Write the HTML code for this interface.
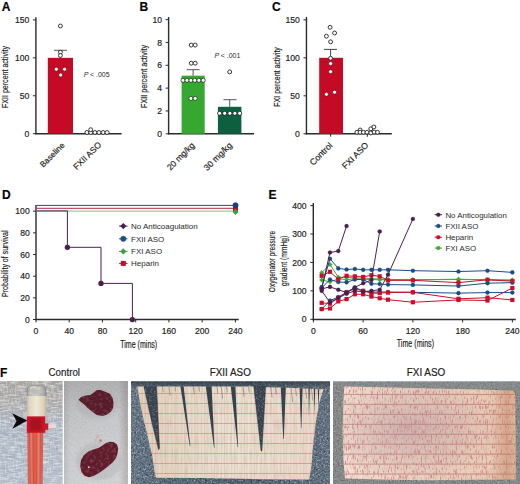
<!DOCTYPE html>
<html><head><meta charset="utf-8"><title>Figure</title><style>
html,body{margin:0;padding:0;background:#fff;width:520px;height:484px;overflow:hidden}
svg{display:block}
text{font-family:"Liberation Sans",sans-serif;stroke:#222;stroke-width:0.18px}
</style></head><body>
<svg width="520" height="484" viewBox="0 0 520 484">
<rect width="520" height="484" fill="#fff"/>
<defs>
<filter id="spkW" x="0" y="0" width="100%" height="100%"><feTurbulence type="fractalNoise" baseFrequency="0.55" numOctaves="2" seed="3"/><feColorMatrix type="matrix" values="0 0 0 0 1  0 0 0 0 1  0 0 0 0 1  0 0 0 2.2 -1.05"/></filter>
<filter id="spkK" x="0" y="0" width="100%" height="100%"><feTurbulence type="fractalNoise" baseFrequency="0.55" numOctaves="2" seed="8"/><feColorMatrix type="matrix" values="0 0 0 0 0  0 0 0 0 0  0 0 0 0 0  0 0 0 2.2 -1.05"/></filter>
<filter id="fabW" x="0" y="0" width="100%" height="100%"><feTurbulence type="fractalNoise" baseFrequency="0.12 0.6" numOctaves="2" seed="5"/><feColorMatrix type="matrix" values="0 0 0 0 1  0 0 0 0 1  0 0 0 0 1  0 0 0 2.4 -1.0"/></filter>
<filter id="fabV" x="0" y="0" width="100%" height="100%"><feTurbulence type="fractalNoise" baseFrequency="0.6 0.15" numOctaves="2" seed="15"/><feColorMatrix type="matrix" values="0 0 0 0 0.95  0 0 0 0 0.97  0 0 0 0 1  0 0 0 2.4 -1.1"/></filter>
<filter id="fabK" x="0" y="0" width="100%" height="100%"><feTurbulence type="fractalNoise" baseFrequency="0.06 0.5" numOctaves="2" seed="9"/><feColorMatrix type="matrix" values="0 0 0 0 0.25  0 0 0 0 0.3  0 0 0 0 0.4  0 0 0 2.2 -1.1"/></filter>
<filter id="fib" x="0" y="0" width="100%" height="100%"><feTurbulence type="fractalNoise" baseFrequency="0.5 0.06" numOctaves="2" seed="13"/><feColorMatrix type="matrix" values="0 0 0 0 0.55  0 0 0 0 0.35  0 0 0 0 0.3  0 0 0 2.0 -1.0"/></filter>
<filter id="fibR" x="0" y="0" width="100%" height="100%"><feTurbulence type="fractalNoise" baseFrequency="0.8 0.2" numOctaves="2" seed="21"/><feColorMatrix type="matrix" values="0 0 0 0 0.6  0 0 0 0 0.22  0 0 0 0 0.26  0 0 0 4.6 -2.45"/><feGaussianBlur stdDeviation="0.35"/></filter>
<filter id="blotch" x="0" y="0" width="100%" height="100%"><feTurbulence type="fractalNoise" baseFrequency="0.3" numOctaves="2" seed="17"/><feColorMatrix type="matrix" values="0 0 0 0 0.54  0 0 0 0 0.22  0 0 0 0 0.32  0 0 0 1.8 -0.85"/><feGaussianBlur stdDeviation="0.4"/></filter>
<filter id="bl03"><feGaussianBlur stdDeviation="0.3"/></filter>
<filter id="bl05"><feGaussianBlur stdDeviation="0.5"/></filter>
<filter id="bl08"><feGaussianBlur stdDeviation="0.8"/></filter>
<filter id="bl15"><feGaussianBlur stdDeviation="1.5"/></filter>
<linearGradient id="tubeg" x1="0" x2="1" y1="0" y2="0"><stop offset="0" stop-color="#cc5448"/><stop offset="0.2" stop-color="#e27262"/><stop offset="0.45" stop-color="#da5c48"/><stop offset="0.7" stop-color="#e47864"/><stop offset="1" stop-color="#c85048"/></linearGradient>
<linearGradient id="beigeg" x1="0" x2="1" y1="0" y2="0"><stop offset="0" stop-color="#c8bca4"/><stop offset="0.15" stop-color="#e0d6c0"/><stop offset="0.5" stop-color="#efe8d6"/><stop offset="0.85" stop-color="#ddd2ba"/><stop offset="1" stop-color="#c4b8a0"/></linearGradient>
<linearGradient id="capg" x1="0" x2="1" y1="0" y2="0"><stop offset="0" stop-color="#9a9894" stop-opacity="0.9"/><stop offset="0.2" stop-color="#c4c2bc" stop-opacity="0.55"/><stop offset="0.6" stop-color="#d4d2cc" stop-opacity="0.5"/><stop offset="1" stop-color="#94928e" stop-opacity="0.9"/></linearGradient>
<linearGradient id="p1bg" x1="0" x2="0" y1="0" y2="1"><stop offset="0" stop-color="#a6a29c"/><stop offset="0.2" stop-color="#aaa8a6"/><stop offset="0.4" stop-color="#aab3be"/><stop offset="1" stop-color="#b2bcc9"/></linearGradient>
<linearGradient id="p2bg" x1="0" x2="1" y1="0" y2="0"><stop offset="0" stop-color="#b4b4b6"/><stop offset="0.1" stop-color="#c6c7c9"/><stop offset="0.85" stop-color="#cbcccf"/><stop offset="1" stop-color="#a8a4a2"/></linearGradient>
<linearGradient id="p2v" x1="0" x2="0" y1="0" y2="1"><stop offset="0" stop-color="#8c8c8e" stop-opacity="0.45"/><stop offset="0.3" stop-color="#8c8c8e" stop-opacity="0.1"/><stop offset="0.7" stop-color="#ffffff" stop-opacity="0.1"/><stop offset="1" stop-color="#ffffff" stop-opacity="0.15"/></linearGradient>
<linearGradient id="p3bg" x1="0" x2="1" y1="0" y2="0"><stop offset="0" stop-color="#667888"/><stop offset="0.15" stop-color="#586a7a"/><stop offset="0.6" stop-color="#4e5e6c"/><stop offset="1" stop-color="#627282"/></linearGradient>
<linearGradient id="p3top" x1="0" x2="0" y1="0" y2="1"><stop offset="0" stop-color="#2f3a44" stop-opacity="0.8"/><stop offset="1" stop-color="#2f3a44" stop-opacity="0"/></linearGradient>
<linearGradient id="pap4" x1="0" x2="1" y1="0" y2="0"><stop offset="0" stop-color="#f4e0d2"/><stop offset="0.2" stop-color="#eed8c8"/><stop offset="0.55" stop-color="#e8d0be"/><stop offset="0.85" stop-color="#eacdb6"/><stop offset="0.95" stop-color="#d4a88a"/><stop offset="1" stop-color="#deba9a"/></linearGradient>
<linearGradient id="pap3" x1="0" x2="1" y1="0" y2="0"><stop offset="0" stop-color="#e0d0bc"/><stop offset="0.5" stop-color="#e9dfd0"/><stop offset="1" stop-color="#ead8ca"/></linearGradient>
<pattern id="grid3" patternUnits="userSpaceOnUse" x="131" y="383.0" width="9.9" height="10.0"><path d="M0,0.5 H9.9" stroke="#cc6656" stroke-width="0.85" opacity="0.7"/><path d="M4.5,0 V10" stroke="#d07060" stroke-width="0.6" opacity="0.35"/><path d="M1.6,0 V10 M7.0,0 V10" stroke="#a09484" stroke-width="0.5" opacity="0.4"/><path d="M3.0,0 V10 M8.6,0 V10" stroke="#fff8f0" stroke-width="0.6" opacity="0.35"/></pattern>
<pattern id="grid4" patternUnits="userSpaceOnUse" x="333" y="384.0" width="10.2" height="9.95"><path d="M0,0.5 H10.2" stroke="#b05c50" stroke-width="0.8" opacity="0.7"/><path d="M0.5,0 V9.95" stroke="#c88070" stroke-width="0.5" opacity="0.3"/></pattern>
<radialGradient id="mauve4" cx="0.38" cy="0.45" r="0.55"><stop offset="0" stop-color="#9a7888" stop-opacity="0.38"/><stop offset="1" stop-color="#a08090" stop-opacity="0"/></radialGradient>
<clipPath id="c1"><rect x="0" y="381.0" width="62.8" height="103"/></clipPath>
<clipPath id="c2"><rect x="63.9" y="381.0" width="64" height="103"/></clipPath>
<clipPath id="c3"><rect x="131" y="381.2" width="199" height="102.8"/></clipPath>
<clipPath id="c4"><rect x="333" y="381.2" width="187" height="102.8"/></clipPath>
<clipPath id="tubec"><path d="M27.3,432 L43.2,432 L42.6,484 L27.8,484 Z"/></clipPath>
</defs>
<g clip-path="url(#c1)">
<rect x="0" y="381.0" width="62.8" height="103" fill="url(#p1bg)"/>
<rect x="0" y="381.0" width="62.8" height="103" filter="url(#fabK)" opacity="0.55"/>
<rect x="0" y="381.0" width="62.8" height="103" filter="url(#fabW)" opacity="0.55"/>
<rect x="0" y="381.0" width="62.8" height="103" filter="url(#fabV)" opacity="0.4"/>
<g clip-path="url(#tubec)"><rect x="27" y="432" width="17" height="53" fill="url(#tubeg)"/>
<path d="M29.5,432 L30.5,484 M33,432 L33.5,484 M36.5,432 L36.5,484 M40.5,432 L40,484" stroke="#b83030" stroke-width="0.7" opacity="0.5"/>
<path d="M31.5,432 L32,484 M38.5,432 L38.3,484" stroke="#f09080" stroke-width="0.8" opacity="0.5"/></g>
<path d="M26.8,397 L26.8,390 Q26.8,385.3 31.5,385.3 L41.5,385.3 Q46.2,385.3 46.2,390 L46.2,397 Z" fill="url(#capg)"/>
<path d="M27.2,397 L27.2,390 Q27.2,385.7 31.5,385.7 L41.5,385.7 Q45.8,385.7 45.8,390 L45.8,397" fill="none" stroke="#7c7a76" stroke-width="0.8" opacity="0.7"/>
<path d="M30,389 Q31,386.8 36,386.6" stroke="#e4e0d8" stroke-width="1" fill="none"/>
<rect x="26.8" y="396" width="19.4" height="20.6" fill="url(#beigeg)"/>
<rect x="26.8" y="416.4" width="18.4" height="16.4" fill="#cc1628"/>
<rect x="30" y="418.5" width="11.5" height="12" fill="#8e0a1a" opacity="0.55" filter="url(#bl08)"/>
<rect x="45" y="423.4" width="3.6" height="6.4" fill="#c81c2c"/>
<rect x="48.4" y="424.2" width="7.8" height="5.0" fill="#e2dcdc"/>
<rect x="48.4" y="428.2" width="7.8" height="1" fill="#b8b0b0"/>
<path d="M12.2,413.3 L27.2,420.5 L12.2,429.0 L16.6,421 Z" fill="#0a0a0a"/>
</g>
<g clip-path="url(#c2)">
<rect x="63.9" y="381.0" width="64" height="103" fill="url(#p2bg)"/>
<rect x="63.9" y="381.0" width="64" height="103" fill="url(#p2v)"/>
<rect x="63.9" y="381.0" width="64" height="103" filter="url(#spkK)" opacity="0.07"/>
<rect x="63.9" y="381.0" width="64" height="103" filter="url(#spkW)" opacity="0.12"/>
<ellipse cx="97" cy="404" rx="21" ry="15" fill="#a8a8ac" opacity="0.35" filter="url(#bl15)"/>
<ellipse cx="99" cy="461" rx="23" ry="19" fill="#a8a8ac" opacity="0.35" filter="url(#bl15)"/>
<path d="M78.5,399.7 L81.2,396.9 L85.8,395.5 L90.5,395.1 L94.2,392.3 L96.9,390 L100.6,390 L105.2,391.8 L109.9,393.7 L112.6,397.9 L113.5,402.5 L113.1,408 L110.8,411.7 L107.1,414.5 L102.5,415.9 L96.9,414.9 L92.3,411.7 L87.7,408 L84,404.3 L80.3,401.5 Z" fill="#561a2c" filter="url(#bl05)"/>
<clipPath id="ovc1"><path d="M78.5,399.7 L81.2,396.9 L85.8,395.5 L90.5,395.1 L94.2,392.3 L96.9,390 L100.6,390 L105.2,391.8 L109.9,393.7 L112.6,397.9 L113.5,402.5 L113.1,408 L110.8,411.7 L107.1,414.5 L102.5,415.9 L96.9,414.9 L92.3,411.7 L87.7,408 L84,404.3 L80.3,401.5 Z"/></clipPath>
<g clip-path="url(#ovc1)"><rect x="0" y="370" width="520" height="114" filter="url(#blotch)" opacity="0.5"/></g>
<path d="M80.2,466 L81,460 L84,455 L88.5,451.5 L93.5,449.5 L98.5,448 L102.5,445.5 L106,443 L110,441.8 L114,442.2 L117,444.5 L118.2,448.5 L117.5,453.5 L115.8,458.5 L112.5,462.5 L108.5,466 L104,469.5 L99,473 L94,475.8 L89,477.2 L84.5,475.8 L81.5,472 Z" fill="#5e1a2c" filter="url(#bl05)"/>
<clipPath id="ovc2"><path d="M80.2,466 L81,460 L84,455 L88.5,451.5 L93.5,449.5 L98.5,448 L102.5,445.5 L106,443 L110,441.8 L114,442.2 L117,444.5 L118.2,448.5 L117.5,453.5 L115.8,458.5 L112.5,462.5 L108.5,466 L104,469.5 L99,473 L94,475.8 L89,477.2 L84.5,475.8 L81.5,472 Z"/></clipPath>
<g clip-path="url(#ovc2)"><rect x="0" y="370" width="520" height="114" filter="url(#blotch)" opacity="0.5"/></g>
<circle cx="97.5" cy="436.5" r="1.9" fill="#d4b0b4" opacity="0.85"/><circle cx="100.5" cy="440.5" r="1.5" fill="#b87880" opacity="0.8"/><circle cx="95.5" cy="440" r="1" fill="#c8a0a4" opacity="0.8"/>
<circle cx="88.8" cy="467.2" r="0.9" fill="#e8c8d0"/>
</g>
<g clip-path="url(#c3)">
<rect x="131" y="381.2" width="199" height="102.8" fill="url(#p3bg)"/>
<rect x="131" y="381.2" width="199" height="102.8" filter="url(#spkW)" opacity="0.55"/>
<rect x="131" y="381.2" width="199" height="102.8" filter="url(#spkK)" opacity="0.5"/>
<rect x="131" y="381.2" width="199" height="8" fill="url(#p3top)"/>
<path d="M137.2,386.6 L143.8,386.5 L157,386.4 L200,386.4 L253,386.6 L265.4,387.2 L290,387.8 L303,388.6 L323.3,389.4 L319.5,402 L316.5,418 L314.6,431.5 L312.6,450 L311.4,465.8 L309.2,479.6 L262,479.2 L200,478.0 L156,477.8 L155.0,474 L152.0,455 L146.2,430 L144.2,422 L141,408 Z" fill="url(#pap3)"/>
<path d="M137.2,386.6 L143.8,386.5 L157,386.4 L200,386.4 L253,386.6 L265.4,387.2 L290,387.8 L303,388.6 L323.3,389.4 L319.5,402 L316.5,418 L314.6,431.5 L312.6,450 L311.4,465.8 L309.2,479.6 L262,479.2 L200,478.0 L156,477.8 L155.0,474 L152.0,455 L146.2,430 L144.2,422 L141,408 Z" fill="url(#grid3)" filter="url(#bl03)" opacity="0.9"/>
<clipPath id="ovc3"><path d="M137.2,386.6 L143.8,386.5 L157,386.4 L200,386.4 L253,386.6 L265.4,387.2 L290,387.8 L303,388.6 L323.3,389.4 L319.5,402 L316.5,418 L314.6,431.5 L312.6,450 L311.4,465.8 L309.2,479.6 L262,479.2 L200,478.0 L156,477.8 L155.0,474 L152.0,455 L146.2,430 L144.2,422 L141,408 Z"/></clipPath>
<g clip-path="url(#ovc3)"><rect x="0" y="370" width="520" height="114" filter="url(#fib)" opacity="0.45"/></g>
<path d="M143.8,386.2 L156.6,386.2 L158.3,422 L159.6,448 L158.6,450 L151.7,422 Z" fill="#36424e"/>
<clipPath id="ovc4"><path d="M143.8,386.2 L156.6,386.2 L158.3,422 L159.6,448 L158.6,450 L151.7,422 Z"/></clipPath>
<g clip-path="url(#ovc4)"><rect x="0" y="370" width="520" height="114" filter="url(#spkW)" opacity="0.35"/></g>
<path d="M143.8,386.2 L156.6,386.2 L158.3,422 L159.6,448 L158.6,450 L151.7,422 Z" fill="none" stroke="#1c2228" stroke-width="0.6" opacity="0.6"/>
<path d="M180.4,386.2 L183.6,386.2 L190.4,446 L189.9,446.4 Z" fill="#36424e"/>
<path d="M205.8,386.2 L211.6,386.2 L214.5,447.5 L214.0,448 Z" fill="#36424e"/>
<path d="M230.8,386.4 L235.4,386.4 L238.1,447 L237.7,447.2 Z" fill="#36424e"/>
<path d="M253.7,386.4 L265.7,386.8 L261.9,451 L261.0,451 Z" fill="#36424e"/>
<clipPath id="ovc5"><path d="M253.7,386.4 L265.7,386.8 L261.9,451 L261.0,451 Z"/></clipPath>
<g clip-path="url(#ovc5)"><rect x="0" y="370" width="520" height="114" filter="url(#spkW)" opacity="0.35"/></g>
<path d="M253.7,386.4 L265.7,386.8 L261.9,451 L261.0,451 Z" fill="none" stroke="#1c2228" stroke-width="0.6" opacity="0.6"/>
<path d="M280.8,387.2 L285.8,387.2 L283.8,439 L283.3,439 Z" fill="#36424e"/>
<path d="M299.6,388.2 L302.6,388.2 L301.4,428 L301.0,428 Z" fill="#36424e"/>
<path d="M308.4,388.6 L309.8,388.6 L309.0,418 Z" fill="#36424e"/>
<path d="M313.8,389 L315.2,389 L314.5,415 Z" fill="#36424e"/>
<path d="M317.8,389.2 L319.2,389.2 L318.5,412 Z" fill="#36424e"/>
<path d="M162.5,386.4 L163.22,392.4" stroke="#4a4a48" stroke-width="0.7" opacity="0.6"/>
<path d="M169.0,386.4 L170.08,395.4" stroke="#4a4a48" stroke-width="0.7" opacity="0.6"/>
<path d="M175.0,386.4 L175.60,391.4" stroke="#4a4a48" stroke-width="0.7" opacity="0.6"/>
<path d="M193.3,386.4 L194.26,394.4" stroke="#4a4a48" stroke-width="0.7" opacity="0.6"/>
<path d="M198.8,386.4 L199.40,391.4" stroke="#4a4a48" stroke-width="0.7" opacity="0.6"/>
<path d="M217.0,386.4 L217.84,393.4" stroke="#4a4a48" stroke-width="0.7" opacity="0.6"/>
<path d="M221.2,386.4 L222.64,398.4" stroke="#4a4a48" stroke-width="0.7" opacity="0.6"/>
<path d="M226.5,386.5 L227.22,392.5" stroke="#4a4a48" stroke-width="0.7" opacity="0.6"/>
<path d="M243.0,386.6 L244.20,396.6" stroke="#4a4a48" stroke-width="0.7" opacity="0.6"/>
<path d="M248.5,386.6 L249.22,392.6" stroke="#4a4a48" stroke-width="0.7" opacity="0.6"/>
<path d="M270.8,387.3 L272.00,397.3" stroke="#4a4a48" stroke-width="0.7" opacity="0.6"/>
<path d="M275.5,387.4 L276.34,394.4" stroke="#4a4a48" stroke-width="0.7" opacity="0.6"/>
<path d="M291.0,388.0 L292.68,402.0" stroke="#4a4a48" stroke-width="0.7" opacity="0.6"/>
<path d="M295.5,388.1 L296.46,396.1" stroke="#4a4a48" stroke-width="0.7" opacity="0.6"/>
<path d="M305.5,388.5 L306.70,398.5" stroke="#4a4a48" stroke-width="0.7" opacity="0.6"/>
<path d="M311.5,388.8 L312.94,400.8" stroke="#4a4a48" stroke-width="0.7" opacity="0.6"/>
</g>
<g clip-path="url(#c4)">
<rect x="333" y="381.2" width="187" height="102.8" fill="#868a88"/>
<rect x="333" y="381.2" width="187" height="102.8" filter="url(#spkW)" opacity="0.3"/>
<rect x="333" y="381.2" width="187" height="102.8" filter="url(#spkK)" opacity="0.35"/>
<rect x="333" y="381.2" width="187" height="7" fill="#8a9098" opacity="0.35"/>
<path d="M344.4,386.6 L380,387.2 L430,388.4 L480,389.4 L513.5,390.6 L515.2,394 L515.6,440 L515.8,479.5 L470,479.8 L430,480.2 L380,479.6 L345.0,478.6 L343.4,460 L342.6,430 L343.4,400 Z" fill="url(#pap4)"/>
<path d="M344.4,386.6 L380,387.2 L430,388.4 L480,389.4 L513.5,390.6 L515.2,394 L515.6,440 L515.8,479.5 L470,479.8 L430,480.2 L380,479.6 L345.0,478.6 L343.4,460 L342.6,430 L343.4,400 Z" fill="url(#grid4)"/>
<path d="M344.4,386.6 L380,387.2 L430,388.4 L480,389.4 L513.5,390.6 L515.2,394 L515.6,440 L515.8,479.5 L470,479.8 L430,480.2 L380,479.6 L345.0,478.6 L343.4,460 L342.6,430 L343.4,400 Z" fill="url(#mauve4)"/>
<clipPath id="ovc6"><path d="M344.4,386.6 L380,387.2 L430,388.4 L480,389.4 L513.5,390.6 L515.2,394 L515.6,440 L515.8,479.5 L470,479.8 L430,480.2 L380,479.6 L345.0,478.6 L343.4,460 L342.6,430 L343.4,400 Z"/></clipPath>
<g clip-path="url(#ovc6)"><rect x="0" y="370" width="520" height="114" filter="url(#fibR)" opacity="0.85"/></g>
<clipPath id="ovc7"><path d="M344.4,386.6 L380,387.2 L430,388.4 L480,389.4 L513.5,390.6 L515.2,394 L515.6,440 L515.8,479.5 L470,479.8 L430,480.2 L380,479.6 L345.0,478.6 L343.4,460 L342.6,430 L343.4,400 Z"/></clipPath>
<g clip-path="url(#ovc7)"><rect x="0" y="370" width="520" height="114" filter="url(#fib)" opacity="0.35"/></g>
</g>
<text x="1.80" y="10.50" font-size="12" text-anchor="start" font-weight="bold" font-style="normal" fill="#000" >A</text>
<line x1="35.90" y1="17.20" x2="35.90" y2="134.30" stroke="#2b2b2b" stroke-width="1.4" />
<line x1="32.90" y1="19.89" x2="35.90" y2="19.89" stroke="#2b2b2b" stroke-width="1.0" />
<text x="29.30" y="22.99" font-size="8.6" text-anchor="end" font-weight="normal" font-style="normal" fill="#222" >150</text>
<line x1="32.90" y1="57.83" x2="35.90" y2="57.83" stroke="#2b2b2b" stroke-width="1.0" />
<text x="29.30" y="60.93" font-size="8.6" text-anchor="end" font-weight="normal" font-style="normal" fill="#222" >100</text>
<line x1="32.90" y1="95.76" x2="35.90" y2="95.76" stroke="#2b2b2b" stroke-width="1.0" />
<text x="29.30" y="98.86" font-size="8.6" text-anchor="end" font-weight="normal" font-style="normal" fill="#222" >50</text>
<line x1="32.90" y1="133.70" x2="35.90" y2="133.70" stroke="#2b2b2b" stroke-width="1.0" />
<text x="29.30" y="136.80" font-size="8.6" text-anchor="end" font-weight="normal" font-style="normal" fill="#222" >0</text>
<line x1="35.20" y1="133.70" x2="121.60" y2="133.70" stroke="#2b2b2b" stroke-width="1.4" />
<rect x="47.80" y="57.83" width="25.20" height="75.87" fill="#c50a26"/>
<line x1="60.40" y1="57.83" x2="60.40" y2="50.30" stroke="#444" stroke-width="0.9" />
<line x1="54.00" y1="50.30" x2="67.00" y2="50.30" stroke="#444" stroke-width="0.9" />
<circle cx="60.40" cy="26.00" r="1.95" fill="#fff" stroke="#2a2a2a" stroke-width="0.95"/>
<circle cx="60.40" cy="52.20" r="1.95" fill="#fff" stroke="#2a2a2a" stroke-width="0.95"/>
<circle cx="60.40" cy="55.50" r="1.95" fill="#fff" stroke="#2a2a2a" stroke-width="0.95"/>
<circle cx="56.30" cy="69.20" r="2.05" fill="#fff" stroke="#7a0a18" stroke-width="0.8"/>
<circle cx="64.60" cy="69.20" r="2.05" fill="#fff" stroke="#7a0a18" stroke-width="0.8"/>
<circle cx="60.70" cy="75.00" r="2.05" fill="#fff" stroke="#7a0a18" stroke-width="0.8"/>
<circle cx="86.90" cy="132.50" r="1.95" fill="#fff" stroke="#2a2a2a" stroke-width="0.95"/>
<circle cx="90.70" cy="132.50" r="1.95" fill="#fff" stroke="#2a2a2a" stroke-width="0.95"/>
<circle cx="95.00" cy="132.50" r="1.95" fill="#fff" stroke="#2a2a2a" stroke-width="0.95"/>
<circle cx="99.00" cy="132.50" r="1.95" fill="#fff" stroke="#2a2a2a" stroke-width="0.95"/>
<circle cx="103.10" cy="132.50" r="1.95" fill="#fff" stroke="#2a2a2a" stroke-width="0.95"/>
<circle cx="107.10" cy="132.50" r="1.95" fill="#fff" stroke="#2a2a2a" stroke-width="0.95"/>
<circle cx="90.70" cy="129.70" r="1.95" fill="#fff" stroke="#2a2a2a" stroke-width="0.95"/>
<text x="83.8" y="76.6" font-size="7.0" fill="#2a2a2a" style="stroke:none"><tspan font-style="italic">P</tspan><tspan dx="-0.5"> &lt; .005</tspan></text>
<text transform="translate(65.10,145.80) rotate(-45)" x="0" y="0" font-size="8.1" text-anchor="end" fill="#222">Baseline</text>
<text transform="translate(101.90,145.20) rotate(-45)" x="0" y="0" font-size="8.5" text-anchor="end" fill="#222">FXII ASO</text>
<text transform="translate(8.30,77.00) rotate(-90)" x="0" y="0" font-size="9.3" text-anchor="middle" textLength="62.0" lengthAdjust="spacingAndGlyphs" fill="#222">FXII percent activity</text>
<text x="139.40" y="10.50" font-size="12" text-anchor="start" font-weight="bold" font-style="normal" fill="#000" >B</text>
<line x1="168.60" y1="17.00" x2="168.60" y2="134.40" stroke="#2b2b2b" stroke-width="1.4" />
<line x1="165.60" y1="19.60" x2="168.60" y2="19.60" stroke="#2b2b2b" stroke-width="1.0" />
<text x="162.00" y="22.70" font-size="8.6" text-anchor="end" font-weight="normal" font-style="normal" fill="#222" >10</text>
<line x1="165.60" y1="42.44" x2="168.60" y2="42.44" stroke="#2b2b2b" stroke-width="1.0" />
<text x="162.00" y="45.54" font-size="8.6" text-anchor="end" font-weight="normal" font-style="normal" fill="#222" >8</text>
<line x1="165.60" y1="65.28" x2="168.60" y2="65.28" stroke="#2b2b2b" stroke-width="1.0" />
<text x="162.00" y="68.38" font-size="8.6" text-anchor="end" font-weight="normal" font-style="normal" fill="#222" >6</text>
<line x1="165.60" y1="88.12" x2="168.60" y2="88.12" stroke="#2b2b2b" stroke-width="1.0" />
<text x="162.00" y="91.22" font-size="8.6" text-anchor="end" font-weight="normal" font-style="normal" fill="#222" >4</text>
<line x1="165.60" y1="110.96" x2="168.60" y2="110.96" stroke="#2b2b2b" stroke-width="1.0" />
<text x="162.00" y="114.06" font-size="8.6" text-anchor="end" font-weight="normal" font-style="normal" fill="#222" >2</text>
<line x1="165.60" y1="133.80" x2="168.60" y2="133.80" stroke="#2b2b2b" stroke-width="1.0" />
<text x="162.00" y="136.90" font-size="8.6" text-anchor="end" font-weight="normal" font-style="normal" fill="#222" >0</text>
<line x1="168.00" y1="133.80" x2="254.10" y2="133.80" stroke="#2b2b2b" stroke-width="1.4" />
<rect x="181.60" y="75.70" width="23.10" height="58.10" fill="#36a830"/>
<rect x="217.90" y="106.80" width="23.50" height="27.00" fill="#0e5f40"/>
<line x1="193.10" y1="75.90" x2="193.10" y2="69.70" stroke="#444" stroke-width="0.9" />
<line x1="186.60" y1="69.70" x2="199.60" y2="69.70" stroke="#444" stroke-width="0.9" />
<line x1="229.70" y1="106.80" x2="229.70" y2="99.70" stroke="#444" stroke-width="0.9" />
<line x1="223.50" y1="99.70" x2="236.50" y2="99.70" stroke="#444" stroke-width="0.9" />
<circle cx="191.20" cy="45.10" r="1.95" fill="#fff" stroke="#2a2a2a" stroke-width="0.95"/>
<circle cx="195.20" cy="45.10" r="1.95" fill="#fff" stroke="#2a2a2a" stroke-width="0.95"/>
<circle cx="191.20" cy="63.20" r="1.95" fill="#fff" stroke="#2a2a2a" stroke-width="0.95"/>
<circle cx="195.20" cy="63.20" r="1.95" fill="#fff" stroke="#2a2a2a" stroke-width="0.95"/>
<circle cx="183.00" cy="80.30" r="2.05" fill="#fff" stroke="#143a14" stroke-width="0.8"/>
<circle cx="187.00" cy="80.30" r="2.05" fill="#fff" stroke="#143a14" stroke-width="0.8"/>
<circle cx="190.90" cy="80.30" r="2.05" fill="#fff" stroke="#143a14" stroke-width="0.8"/>
<circle cx="194.80" cy="80.30" r="2.05" fill="#fff" stroke="#143a14" stroke-width="0.8"/>
<circle cx="198.90" cy="80.30" r="2.05" fill="#fff" stroke="#143a14" stroke-width="0.8"/>
<circle cx="203.20" cy="80.30" r="2.05" fill="#fff" stroke="#143a14" stroke-width="0.8"/>
<circle cx="190.90" cy="98.40" r="2.05" fill="#fff" stroke="#143a14" stroke-width="0.8"/>
<circle cx="195.20" cy="98.40" r="2.05" fill="#fff" stroke="#143a14" stroke-width="0.8"/>
<circle cx="219.60" cy="113.30" r="2.05" fill="#fff" stroke="#04241a" stroke-width="0.8"/>
<circle cx="224.70" cy="113.30" r="2.05" fill="#fff" stroke="#04241a" stroke-width="0.8"/>
<circle cx="229.90" cy="113.30" r="2.05" fill="#fff" stroke="#04241a" stroke-width="0.8"/>
<circle cx="234.90" cy="113.30" r="2.05" fill="#fff" stroke="#04241a" stroke-width="0.8"/>
<circle cx="239.70" cy="113.30" r="2.05" fill="#fff" stroke="#04241a" stroke-width="0.8"/>
<circle cx="229.70" cy="71.90" r="1.95" fill="#fff" stroke="#2a2a2a" stroke-width="0.95"/>
<text x="214.6" y="58.0" font-size="7.0" fill="#2a2a2a" style="stroke:none"><tspan font-style="italic">P</tspan><tspan dx="-0.5"> &lt; .001</tspan></text>
<text transform="translate(195.20,146.00) rotate(-45)" x="0" y="0" font-size="8.5" text-anchor="end" fill="#222">20 mg/kg</text>
<text transform="translate(232.60,145.90) rotate(-45)" x="0" y="0" font-size="8.7" text-anchor="end" fill="#222">30 mg/kg</text>
<text transform="translate(146.50,76.40) rotate(-90)" x="0" y="0" font-size="9.4" text-anchor="middle" textLength="63.0" lengthAdjust="spacingAndGlyphs" fill="#222">FXII percent activity</text>
<text x="272.00" y="10.50" font-size="12" text-anchor="start" font-weight="bold" font-style="normal" fill="#000" >C</text>
<line x1="306.45" y1="16.90" x2="306.45" y2="134.40" stroke="#2b2b2b" stroke-width="1.4" />
<line x1="303.45" y1="19.80" x2="306.45" y2="19.80" stroke="#2b2b2b" stroke-width="1.0" />
<text x="299.85" y="22.90" font-size="8.6" text-anchor="end" font-weight="normal" font-style="normal" fill="#222" >150</text>
<line x1="303.45" y1="57.80" x2="306.45" y2="57.80" stroke="#2b2b2b" stroke-width="1.0" />
<text x="299.85" y="60.90" font-size="8.6" text-anchor="end" font-weight="normal" font-style="normal" fill="#222" >100</text>
<line x1="303.45" y1="95.80" x2="306.45" y2="95.80" stroke="#2b2b2b" stroke-width="1.0" />
<text x="299.85" y="98.90" font-size="8.6" text-anchor="end" font-weight="normal" font-style="normal" fill="#222" >50</text>
<line x1="303.45" y1="133.80" x2="306.45" y2="133.80" stroke="#2b2b2b" stroke-width="1.0" />
<text x="299.85" y="136.90" font-size="8.6" text-anchor="end" font-weight="normal" font-style="normal" fill="#222" >0</text>
<line x1="305.80" y1="133.80" x2="391.80" y2="133.80" stroke="#2b2b2b" stroke-width="1.4" />
<rect x="319.20" y="57.80" width="23.80" height="76.00" fill="#c50a26"/>
<line x1="330.60" y1="58.00" x2="330.60" y2="49.40" stroke="#444" stroke-width="1.0" />
<line x1="324.10" y1="49.40" x2="337.00" y2="49.40" stroke="#444" stroke-width="1.0" />
<circle cx="330.10" cy="27.30" r="1.95" fill="#fff" stroke="#2a2a2a" stroke-width="0.95"/>
<circle cx="334.60" cy="33.00" r="1.95" fill="#fff" stroke="#2a2a2a" stroke-width="0.95"/>
<circle cx="326.40" cy="36.20" r="1.95" fill="#fff" stroke="#2a2a2a" stroke-width="0.95"/>
<circle cx="330.60" cy="41.80" r="1.95" fill="#fff" stroke="#2a2a2a" stroke-width="0.95"/>
<circle cx="330.60" cy="58.30" r="1.95" fill="#fff" stroke="#2a2a2a" stroke-width="0.95"/>
<circle cx="330.60" cy="63.60" r="2.05" fill="#fff" stroke="#7a0a18" stroke-width="0.8"/>
<circle cx="330.60" cy="71.70" r="2.05" fill="#fff" stroke="#7a0a18" stroke-width="0.8"/>
<circle cx="326.40" cy="94.30" r="2.05" fill="#fff" stroke="#7a0a18" stroke-width="0.8"/>
<circle cx="334.60" cy="92.20" r="2.05" fill="#fff" stroke="#7a0a18" stroke-width="0.8"/>
<circle cx="360.10" cy="130.00" r="1.95" fill="#fff" stroke="#2a2a2a" stroke-width="0.95"/>
<circle cx="370.80" cy="128.80" r="1.95" fill="#fff" stroke="#2a2a2a" stroke-width="0.95"/>
<circle cx="373.90" cy="127.00" r="1.95" fill="#fff" stroke="#2a2a2a" stroke-width="0.95"/>
<circle cx="356.90" cy="132.30" r="1.95" fill="#fff" stroke="#2a2a2a" stroke-width="0.95"/>
<circle cx="360.10" cy="132.30" r="1.95" fill="#fff" stroke="#2a2a2a" stroke-width="0.95"/>
<circle cx="363.40" cy="132.30" r="1.95" fill="#fff" stroke="#2a2a2a" stroke-width="0.95"/>
<circle cx="367.10" cy="132.30" r="1.95" fill="#fff" stroke="#2a2a2a" stroke-width="0.95"/>
<circle cx="370.80" cy="132.90" r="1.95" fill="#fff" stroke="#2a2a2a" stroke-width="0.95"/>
<circle cx="374.10" cy="132.10" r="1.95" fill="#fff" stroke="#2a2a2a" stroke-width="0.95"/>
<circle cx="377.50" cy="132.30" r="1.95" fill="#fff" stroke="#2a2a2a" stroke-width="0.95"/>
<line x1="330.60" y1="133.60" x2="330.60" y2="136.60" stroke="#2b2b2b" stroke-width="1.0" />
<line x1="367.30" y1="133.60" x2="367.30" y2="136.80" stroke="#2b2b2b" stroke-width="1.0" />
<text transform="translate(333.20,146.00) rotate(-45)" x="0" y="0" font-size="8.8" text-anchor="end" fill="#222">Control</text>
<text transform="translate(369.10,145.80) rotate(-45)" x="0" y="0" font-size="8.6" text-anchor="end" fill="#222">FXI ASO</text>
<text transform="translate(279.60,76.90) rotate(-90)" x="0" y="0" font-size="9.3" text-anchor="middle" textLength="59.5" lengthAdjust="spacingAndGlyphs" fill="#222">FXI percent activity</text>
<text x="2.00" y="198.60" font-size="12" text-anchor="start" font-weight="bold" font-style="normal" fill="#000" >D</text>
<line x1="36.00" y1="205.00" x2="36.00" y2="320.20" stroke="#2b2b2b" stroke-width="1.4" />
<line x1="33.00" y1="319.50" x2="36.00" y2="319.50" stroke="#2b2b2b" stroke-width="1.0" />
<text x="29.70" y="322.60" font-size="8.6" text-anchor="end" font-weight="normal" font-style="normal" fill="#222" >0</text>
<line x1="33.00" y1="297.84" x2="36.00" y2="297.84" stroke="#2b2b2b" stroke-width="1.0" />
<text x="29.70" y="300.94" font-size="8.6" text-anchor="end" font-weight="normal" font-style="normal" fill="#222" >20</text>
<line x1="33.00" y1="276.18" x2="36.00" y2="276.18" stroke="#2b2b2b" stroke-width="1.0" />
<text x="29.70" y="279.28" font-size="8.6" text-anchor="end" font-weight="normal" font-style="normal" fill="#222" >40</text>
<line x1="33.00" y1="254.52" x2="36.00" y2="254.52" stroke="#2b2b2b" stroke-width="1.0" />
<text x="29.70" y="257.62" font-size="8.6" text-anchor="end" font-weight="normal" font-style="normal" fill="#222" >60</text>
<line x1="33.00" y1="232.86" x2="36.00" y2="232.86" stroke="#2b2b2b" stroke-width="1.0" />
<text x="29.70" y="235.96" font-size="8.6" text-anchor="end" font-weight="normal" font-style="normal" fill="#222" >80</text>
<line x1="33.00" y1="211.20" x2="36.00" y2="211.20" stroke="#2b2b2b" stroke-width="1.0" />
<text x="29.70" y="214.30" font-size="8.6" text-anchor="end" font-weight="normal" font-style="normal" fill="#222" >100</text>
<line x1="35.30" y1="319.50" x2="238.70" y2="319.50" stroke="#2b2b2b" stroke-width="1.4" />
<line x1="36.00" y1="319.50" x2="36.00" y2="322.40" stroke="#2b2b2b" stroke-width="1.0" />
<text x="36.00" y="333.60" font-size="8.6" text-anchor="middle" font-weight="normal" font-style="normal" fill="#222" >0</text>
<line x1="69.23" y1="319.50" x2="69.23" y2="322.40" stroke="#2b2b2b" stroke-width="1.0" />
<text x="69.23" y="333.60" font-size="8.6" text-anchor="middle" font-weight="normal" font-style="normal" fill="#222" >40</text>
<line x1="102.46" y1="319.50" x2="102.46" y2="322.40" stroke="#2b2b2b" stroke-width="1.0" />
<text x="102.46" y="333.60" font-size="8.6" text-anchor="middle" font-weight="normal" font-style="normal" fill="#222" >80</text>
<line x1="135.70" y1="319.50" x2="135.70" y2="322.40" stroke="#2b2b2b" stroke-width="1.0" />
<text x="135.70" y="333.60" font-size="8.6" text-anchor="middle" font-weight="normal" font-style="normal" fill="#222" >120</text>
<line x1="168.93" y1="319.50" x2="168.93" y2="322.40" stroke="#2b2b2b" stroke-width="1.0" />
<text x="168.93" y="333.60" font-size="8.6" text-anchor="middle" font-weight="normal" font-style="normal" fill="#222" >160</text>
<line x1="202.16" y1="319.50" x2="202.16" y2="322.40" stroke="#2b2b2b" stroke-width="1.0" />
<text x="202.16" y="333.60" font-size="8.6" text-anchor="middle" font-weight="normal" font-style="normal" fill="#222" >200</text>
<line x1="235.39" y1="319.50" x2="235.39" y2="322.40" stroke="#2b2b2b" stroke-width="1.0" />
<text x="235.39" y="333.60" font-size="8.6" text-anchor="middle" font-weight="normal" font-style="normal" fill="#222" >240</text>
<text x="138.7" y="347.5" font-size="10.8" text-anchor="middle" textLength="37" lengthAdjust="spacingAndGlyphs" fill="#222">Time (mins)</text>
<text transform="translate(8.00,263.70) rotate(-90)" x="0" y="0" font-size="9.1" text-anchor="middle" textLength="66.5" lengthAdjust="spacingAndGlyphs" fill="#222">Probability of survival</text>
<line x1="36.60" y1="205.40" x2="233.50" y2="205.40" stroke="#34476a" stroke-width="1.0" />
<line x1="36.60" y1="208.30" x2="233.50" y2="208.30" stroke="#b02848" stroke-width="1.0" />
<line x1="36.60" y1="211.10" x2="233.50" y2="211.10" stroke="#86c27a" stroke-width="1.0" />
<polyline points="36.6,210.9 67.4,210.9 67.4,247.3 101.0,247.3 101.0,283.4 132.4,283.4 132.4,319.5" fill="none" stroke="#4a1f4f" stroke-width="1.0"/>
<circle cx="67.40" cy="247.30" r="2.6" fill="#4a1f4f" stroke="#4a1f4f" stroke-width="0.2"/>
<circle cx="101.00" cy="283.40" r="2.6" fill="#4a1f4f" stroke="#4a1f4f" stroke-width="0.2"/>
<circle cx="132.40" cy="319.60" r="2.6" fill="#4a1f4f" stroke="#4a1f4f" stroke-width="0.2"/>
<rect x="233.00" y="206.40" width="5.00" height="5.00" fill="#c0102e"/>
<path d="M235.5,208.7 L238.5,211.9 L235.5,215.0 L232.5,211.9Z" fill="#3aa040"/>
<circle cx="235.50" cy="205.20" r="2.8" fill="#1a3f72" stroke="#1a3f72" stroke-width="0.2"/>
<line x1="119.10" y1="226.10" x2="127.50" y2="226.10" stroke="#4a1f4f" stroke-width="1.0" />
<path d="M123.3,223.0 L126.39999999999999,226.1 L123.3,229.2 L120.2,226.1Z" fill="#4a1f4f"/>
<text x="131.0" y="229.00" font-size="8.0" fill="#2a2a2a" style="stroke:none">No Anticoagulation</text>
<line x1="119.10" y1="238.80" x2="127.50" y2="238.80" stroke="#1d4f86" stroke-width="1.0" />
<circle cx="123.30" cy="238.80" r="2.8" fill="#1d4f86" stroke="#1d4f86" stroke-width="0.2"/>
<text x="131.0" y="241.70" font-size="8.0" fill="#2a2a2a" style="stroke:none">FXII ASO</text>
<line x1="119.10" y1="251.40" x2="127.50" y2="251.40" stroke="#3aa040" stroke-width="1.0" />
<path d="M123.3,248.3 L126.39999999999999,251.4 L123.3,254.5 L120.2,251.4Z" fill="#3aa040"/>
<text x="131.0" y="254.30" font-size="8.0" fill="#2a2a2a" style="stroke:none">FXI ASO</text>
<line x1="119.10" y1="263.40" x2="127.50" y2="263.40" stroke="#c0102e" stroke-width="1.0" />
<rect x="120.80" y="260.90" width="5.00" height="5.00" fill="#c0102e"/>
<text x="131.0" y="266.30" font-size="8.0" fill="#2a2a2a" style="stroke:none">Heparin</text>
<text x="268.40" y="198.60" font-size="12" text-anchor="start" font-weight="bold" font-style="normal" fill="#000" >E</text>
<line x1="313.30" y1="203.00" x2="313.30" y2="320.20" stroke="#2b2b2b" stroke-width="1.4" />
<line x1="310.30" y1="319.30" x2="313.30" y2="319.30" stroke="#2b2b2b" stroke-width="1.0" />
<text x="306.60" y="322.40" font-size="8.6" text-anchor="end" font-weight="normal" font-style="normal" fill="#222" >0</text>
<line x1="310.30" y1="290.87" x2="313.30" y2="290.87" stroke="#2b2b2b" stroke-width="1.0" />
<text x="306.60" y="293.97" font-size="8.6" text-anchor="end" font-weight="normal" font-style="normal" fill="#222" >100</text>
<line x1="310.30" y1="262.44" x2="313.30" y2="262.44" stroke="#2b2b2b" stroke-width="1.0" />
<text x="306.60" y="265.54" font-size="8.6" text-anchor="end" font-weight="normal" font-style="normal" fill="#222" >200</text>
<line x1="310.30" y1="234.01" x2="313.30" y2="234.01" stroke="#2b2b2b" stroke-width="1.0" />
<text x="306.60" y="237.11" font-size="8.6" text-anchor="end" font-weight="normal" font-style="normal" fill="#222" >300</text>
<line x1="310.30" y1="205.58" x2="313.30" y2="205.58" stroke="#2b2b2b" stroke-width="1.0" />
<text x="306.60" y="208.68" font-size="8.6" text-anchor="end" font-weight="normal" font-style="normal" fill="#222" >400</text>
<line x1="312.60" y1="319.50" x2="515.80" y2="319.50" stroke="#2b2b2b" stroke-width="1.4" />
<line x1="313.40" y1="319.50" x2="313.40" y2="322.40" stroke="#2b2b2b" stroke-width="1.0" />
<text x="313.40" y="333.50" font-size="8.6" text-anchor="middle" font-weight="normal" font-style="normal" fill="#222" >0</text>
<line x1="363.14" y1="319.50" x2="363.14" y2="322.40" stroke="#2b2b2b" stroke-width="1.0" />
<text x="363.14" y="333.50" font-size="8.6" text-anchor="middle" font-weight="normal" font-style="normal" fill="#222" >60</text>
<line x1="412.88" y1="319.50" x2="412.88" y2="322.40" stroke="#2b2b2b" stroke-width="1.0" />
<text x="412.88" y="333.50" font-size="8.6" text-anchor="middle" font-weight="normal" font-style="normal" fill="#222" >120</text>
<line x1="462.62" y1="319.50" x2="462.62" y2="322.40" stroke="#2b2b2b" stroke-width="1.0" />
<text x="462.62" y="333.50" font-size="8.6" text-anchor="middle" font-weight="normal" font-style="normal" fill="#222" >180</text>
<line x1="512.36" y1="319.50" x2="512.36" y2="322.40" stroke="#2b2b2b" stroke-width="1.0" />
<text x="512.36" y="333.50" font-size="8.6" text-anchor="middle" font-weight="normal" font-style="normal" fill="#222" >240</text>
<text x="415.4" y="347.4" font-size="10.6" text-anchor="middle" textLength="37.3" lengthAdjust="spacingAndGlyphs" fill="#222">Time (mins)</text>
<text transform="translate(274.6,261.5) rotate(-90)" font-size="9.8" text-anchor="middle" textLength="61.4" lengthAdjust="spacingAndGlyphs" fill="#222">Oxygenator pressure</text>
<text transform="translate(286.6,260.9) rotate(-90)" font-size="9.8" text-anchor="middle" textLength="50.3" lengthAdjust="spacingAndGlyphs" fill="#222">gradient (mmHg)</text>
<polyline points="321.69,272.67 329.98,264.43 338.27,277.22 346.56,277.22 354.85,278.08 363.14,278.08 371.43,278.65 379.72,279.21 388.01,279.50 412.88,279.78 458.47,279.21 487.49,279.78 512.36,280.35" fill="none" stroke="#46a83c" stroke-width="1.0"/>
<path d="M321.69,270.17 L324.19,272.67 L321.69,275.17 L319.19,272.67Z" fill="#46a83c"/>
<path d="M329.98,261.93 L332.48,264.43 L329.98,266.93 L327.48,264.43Z" fill="#46a83c"/>
<path d="M338.27,274.72 L340.77,277.22 L338.27,279.72 L335.77,277.22Z" fill="#46a83c"/>
<path d="M346.56,274.72 L349.06,277.22 L346.56,279.72 L344.06,277.22Z" fill="#46a83c"/>
<path d="M354.85,275.58 L357.35,278.08 L354.85,280.58 L352.35,278.08Z" fill="#46a83c"/>
<path d="M363.14,275.58 L365.64,278.08 L363.14,280.58 L360.64,278.08Z" fill="#46a83c"/>
<path d="M371.43,276.15 L373.93,278.65 L371.43,281.15 L368.93,278.65Z" fill="#46a83c"/>
<path d="M379.72,276.71 L382.22,279.21 L379.72,281.71 L377.22,279.21Z" fill="#46a83c"/>
<path d="M388.01,277.00 L390.51,279.50 L388.01,282.00 L385.51,279.50Z" fill="#46a83c"/>
<path d="M412.88,277.28 L415.38,279.78 L412.88,282.28 L410.38,279.78Z" fill="#46a83c"/>
<path d="M458.47,276.71 L460.97,279.21 L458.47,281.71 L455.97,279.21Z" fill="#46a83c"/>
<path d="M487.49,277.28 L489.99,279.78 L487.49,282.28 L484.99,279.78Z" fill="#46a83c"/>
<path d="M512.36,277.85 L514.86,280.35 L512.36,282.85 L509.86,280.35Z" fill="#46a83c"/>
<polyline points="321.69,280.07 329.98,281.77 338.27,278.93 346.56,279.50 354.85,278.93 363.14,279.21 371.43,279.50 379.72,279.78 388.01,279.78 412.88,279.78 458.47,279.50 487.49,279.78 512.36,280.07" fill="none" stroke="#46a83c" stroke-width="1.0"/>
<path d="M321.69,277.57 L324.19,280.07 L321.69,282.57 L319.19,280.07Z" fill="#46a83c"/>
<path d="M329.98,279.27 L332.48,281.77 L329.98,284.27 L327.48,281.77Z" fill="#46a83c"/>
<path d="M338.27,276.43 L340.77,278.93 L338.27,281.43 L335.77,278.93Z" fill="#46a83c"/>
<path d="M346.56,277.00 L349.06,279.50 L346.56,282.00 L344.06,279.50Z" fill="#46a83c"/>
<path d="M354.85,276.43 L357.35,278.93 L354.85,281.43 L352.35,278.93Z" fill="#46a83c"/>
<path d="M363.14,276.71 L365.64,279.21 L363.14,281.71 L360.64,279.21Z" fill="#46a83c"/>
<path d="M371.43,277.00 L373.93,279.50 L371.43,282.00 L368.93,279.50Z" fill="#46a83c"/>
<path d="M379.72,277.28 L382.22,279.78 L379.72,282.28 L377.22,279.78Z" fill="#46a83c"/>
<path d="M388.01,277.28 L390.51,279.78 L388.01,282.28 L385.51,279.78Z" fill="#46a83c"/>
<path d="M412.88,277.28 L415.38,279.78 L412.88,282.28 L410.38,279.78Z" fill="#46a83c"/>
<path d="M458.47,277.00 L460.97,279.50 L458.47,282.00 L455.97,279.50Z" fill="#46a83c"/>
<path d="M487.49,277.28 L489.99,279.78 L487.49,282.28 L484.99,279.78Z" fill="#46a83c"/>
<path d="M512.36,277.57 L514.86,280.07 L512.36,282.57 L509.86,280.07Z" fill="#46a83c"/>
<polyline points="321.69,287.17 329.98,258.74 338.27,268.41 346.56,269.55 354.85,268.98 363.14,269.83 371.43,269.83 379.72,269.83 388.01,269.83 412.88,270.68 458.47,271.54 487.49,270.68 512.36,272.39" fill="none" stroke="#1b4c84" stroke-width="1.0"/>
<circle cx="321.69" cy="287.17" r="2.05" fill="#1b4c84" stroke="#1b4c84" stroke-width="0.2"/>
<circle cx="329.98" cy="258.74" r="2.05" fill="#1b4c84" stroke="#1b4c84" stroke-width="0.2"/>
<circle cx="338.27" cy="268.41" r="2.05" fill="#1b4c84" stroke="#1b4c84" stroke-width="0.2"/>
<circle cx="346.56" cy="269.55" r="2.05" fill="#1b4c84" stroke="#1b4c84" stroke-width="0.2"/>
<circle cx="354.85" cy="268.98" r="2.05" fill="#1b4c84" stroke="#1b4c84" stroke-width="0.2"/>
<circle cx="363.14" cy="269.83" r="2.05" fill="#1b4c84" stroke="#1b4c84" stroke-width="0.2"/>
<circle cx="371.43" cy="269.83" r="2.05" fill="#1b4c84" stroke="#1b4c84" stroke-width="0.2"/>
<circle cx="379.72" cy="269.83" r="2.05" fill="#1b4c84" stroke="#1b4c84" stroke-width="0.2"/>
<circle cx="388.01" cy="269.83" r="2.05" fill="#1b4c84" stroke="#1b4c84" stroke-width="0.2"/>
<circle cx="412.88" cy="270.68" r="2.05" fill="#1b4c84" stroke="#1b4c84" stroke-width="0.2"/>
<circle cx="458.47" cy="271.54" r="2.05" fill="#1b4c84" stroke="#1b4c84" stroke-width="0.2"/>
<circle cx="487.49" cy="270.68" r="2.05" fill="#1b4c84" stroke="#1b4c84" stroke-width="0.2"/>
<circle cx="512.36" cy="272.39" r="2.05" fill="#1b4c84" stroke="#1b4c84" stroke-width="0.2"/>
<polyline points="321.69,288.03 329.98,279.50 338.27,282.06 346.56,282.34 354.85,279.50 363.14,279.50 371.43,283.76 379.72,284.05 388.01,284.62 412.88,284.90 458.47,286.04 487.49,283.19 512.36,282.63" fill="none" stroke="#1b4c84" stroke-width="1.0"/>
<circle cx="321.69" cy="288.03" r="2.05" fill="#1b4c84" stroke="#1b4c84" stroke-width="0.2"/>
<circle cx="329.98" cy="279.50" r="2.05" fill="#1b4c84" stroke="#1b4c84" stroke-width="0.2"/>
<circle cx="338.27" cy="282.06" r="2.05" fill="#1b4c84" stroke="#1b4c84" stroke-width="0.2"/>
<circle cx="346.56" cy="282.34" r="2.05" fill="#1b4c84" stroke="#1b4c84" stroke-width="0.2"/>
<circle cx="354.85" cy="279.50" r="2.05" fill="#1b4c84" stroke="#1b4c84" stroke-width="0.2"/>
<circle cx="363.14" cy="279.50" r="2.05" fill="#1b4c84" stroke="#1b4c84" stroke-width="0.2"/>
<circle cx="371.43" cy="283.76" r="2.05" fill="#1b4c84" stroke="#1b4c84" stroke-width="0.2"/>
<circle cx="379.72" cy="284.05" r="2.05" fill="#1b4c84" stroke="#1b4c84" stroke-width="0.2"/>
<circle cx="388.01" cy="284.62" r="2.05" fill="#1b4c84" stroke="#1b4c84" stroke-width="0.2"/>
<circle cx="412.88" cy="284.90" r="2.05" fill="#1b4c84" stroke="#1b4c84" stroke-width="0.2"/>
<circle cx="458.47" cy="286.04" r="2.05" fill="#1b4c84" stroke="#1b4c84" stroke-width="0.2"/>
<circle cx="487.49" cy="283.19" r="2.05" fill="#1b4c84" stroke="#1b4c84" stroke-width="0.2"/>
<circle cx="512.36" cy="282.63" r="2.05" fill="#1b4c84" stroke="#1b4c84" stroke-width="0.2"/>
<polyline points="321.69,309.07 329.98,300.54 338.27,297.12 346.56,292.29 354.85,287.46 363.14,290.87 371.43,292.29 379.72,292.01 388.01,292.01 412.88,292.29 458.47,293.14 487.49,292.58 512.36,292.58" fill="none" stroke="#1b4c84" stroke-width="1.0"/>
<circle cx="321.69" cy="309.07" r="2.05" fill="#1b4c84" stroke="#1b4c84" stroke-width="0.2"/>
<circle cx="329.98" cy="300.54" r="2.05" fill="#1b4c84" stroke="#1b4c84" stroke-width="0.2"/>
<circle cx="338.27" cy="297.12" r="2.05" fill="#1b4c84" stroke="#1b4c84" stroke-width="0.2"/>
<circle cx="346.56" cy="292.29" r="2.05" fill="#1b4c84" stroke="#1b4c84" stroke-width="0.2"/>
<circle cx="354.85" cy="287.46" r="2.05" fill="#1b4c84" stroke="#1b4c84" stroke-width="0.2"/>
<circle cx="363.14" cy="290.87" r="2.05" fill="#1b4c84" stroke="#1b4c84" stroke-width="0.2"/>
<circle cx="371.43" cy="292.29" r="2.05" fill="#1b4c84" stroke="#1b4c84" stroke-width="0.2"/>
<circle cx="379.72" cy="292.01" r="2.05" fill="#1b4c84" stroke="#1b4c84" stroke-width="0.2"/>
<circle cx="388.01" cy="292.01" r="2.05" fill="#1b4c84" stroke="#1b4c84" stroke-width="0.2"/>
<circle cx="412.88" cy="292.29" r="2.05" fill="#1b4c84" stroke="#1b4c84" stroke-width="0.2"/>
<circle cx="458.47" cy="293.14" r="2.05" fill="#1b4c84" stroke="#1b4c84" stroke-width="0.2"/>
<circle cx="487.49" cy="292.58" r="2.05" fill="#1b4c84" stroke="#1b4c84" stroke-width="0.2"/>
<circle cx="512.36" cy="292.58" r="2.05" fill="#1b4c84" stroke="#1b4c84" stroke-width="0.2"/>
<polyline points="321.69,275.80 329.98,271.82 338.27,279.21 346.56,275.80 354.85,276.37 363.14,276.94 371.43,275.23 379.72,276.37 388.01,280.35 412.88,280.35 458.47,282.63 487.49,279.78 512.36,281.20" fill="none" stroke="#c8102e" stroke-width="1.0"/>
<rect x="319.59" y="273.70" width="4.20" height="4.20" fill="#c8102e"/>
<rect x="327.88" y="269.72" width="4.20" height="4.20" fill="#c8102e"/>
<rect x="336.17" y="277.11" width="4.20" height="4.20" fill="#c8102e"/>
<rect x="344.46" y="273.70" width="4.20" height="4.20" fill="#c8102e"/>
<rect x="352.75" y="274.27" width="4.20" height="4.20" fill="#c8102e"/>
<rect x="361.04" y="274.84" width="4.20" height="4.20" fill="#c8102e"/>
<rect x="369.33" y="273.13" width="4.20" height="4.20" fill="#c8102e"/>
<rect x="377.62" y="274.27" width="4.20" height="4.20" fill="#c8102e"/>
<rect x="385.91" y="278.25" width="4.20" height="4.20" fill="#c8102e"/>
<rect x="410.78" y="278.25" width="4.20" height="4.20" fill="#c8102e"/>
<rect x="456.37" y="280.53" width="4.20" height="4.20" fill="#c8102e"/>
<rect x="485.39" y="277.68" width="4.20" height="4.20" fill="#c8102e"/>
<rect x="510.26" y="279.10" width="4.20" height="4.20" fill="#c8102e"/>
<polyline points="321.69,302.81 329.98,303.66 338.27,297.98 346.56,292.29 354.85,288.60 363.14,290.87 371.43,293.14 379.72,293.14 388.01,292.58 412.88,292.29 458.47,298.83 487.49,297.69 512.36,299.97" fill="none" stroke="#c8102e" stroke-width="1.0"/>
<rect x="319.59" y="300.71" width="4.20" height="4.20" fill="#c8102e"/>
<rect x="327.88" y="301.56" width="4.20" height="4.20" fill="#c8102e"/>
<rect x="336.17" y="295.88" width="4.20" height="4.20" fill="#c8102e"/>
<rect x="344.46" y="290.19" width="4.20" height="4.20" fill="#c8102e"/>
<rect x="352.75" y="286.50" width="4.20" height="4.20" fill="#c8102e"/>
<rect x="361.04" y="288.77" width="4.20" height="4.20" fill="#c8102e"/>
<rect x="369.33" y="291.04" width="4.20" height="4.20" fill="#c8102e"/>
<rect x="377.62" y="291.04" width="4.20" height="4.20" fill="#c8102e"/>
<rect x="385.91" y="290.48" width="4.20" height="4.20" fill="#c8102e"/>
<rect x="410.78" y="290.19" width="4.20" height="4.20" fill="#c8102e"/>
<rect x="456.37" y="296.73" width="4.20" height="4.20" fill="#c8102e"/>
<rect x="485.39" y="295.59" width="4.20" height="4.20" fill="#c8102e"/>
<rect x="510.26" y="297.87" width="4.20" height="4.20" fill="#c8102e"/>
<polyline points="321.69,309.07 329.98,308.50 338.27,301.39 346.56,299.11 354.85,294.28 363.14,294.28 371.43,296.56 379.72,298.26 388.01,299.68 412.88,302.24 458.47,299.97 487.49,300.54 512.36,288.03" fill="none" stroke="#c8102e" stroke-width="1.0"/>
<rect x="319.59" y="306.97" width="4.20" height="4.20" fill="#c8102e"/>
<rect x="327.88" y="306.40" width="4.20" height="4.20" fill="#c8102e"/>
<rect x="336.17" y="299.29" width="4.20" height="4.20" fill="#c8102e"/>
<rect x="344.46" y="297.01" width="4.20" height="4.20" fill="#c8102e"/>
<rect x="352.75" y="292.18" width="4.20" height="4.20" fill="#c8102e"/>
<rect x="361.04" y="292.18" width="4.20" height="4.20" fill="#c8102e"/>
<rect x="369.33" y="294.46" width="4.20" height="4.20" fill="#c8102e"/>
<rect x="377.62" y="296.16" width="4.20" height="4.20" fill="#c8102e"/>
<rect x="385.91" y="297.58" width="4.20" height="4.20" fill="#c8102e"/>
<rect x="410.78" y="300.14" width="4.20" height="4.20" fill="#c8102e"/>
<rect x="456.37" y="297.87" width="4.20" height="4.20" fill="#c8102e"/>
<rect x="485.39" y="298.44" width="4.20" height="4.20" fill="#c8102e"/>
<rect x="510.26" y="285.93" width="4.20" height="4.20" fill="#c8102e"/>
<polyline points="321.69,288.88 329.98,252.49 338.27,251.07 346.56,226.05" fill="none" stroke="#4a1f4f" stroke-width="1.0"/>
<circle cx="321.69" cy="288.88" r="2.05" fill="#4a1f4f" stroke="#4a1f4f" stroke-width="0.2"/>
<circle cx="329.98" cy="252.49" r="2.05" fill="#4a1f4f" stroke="#4a1f4f" stroke-width="0.2"/>
<circle cx="338.27" cy="251.07" r="2.05" fill="#4a1f4f" stroke="#4a1f4f" stroke-width="0.2"/>
<circle cx="346.56" cy="226.05" r="2.05" fill="#4a1f4f" stroke="#4a1f4f" stroke-width="0.2"/>
<polyline points="321.69,288.88 329.98,286.89 338.27,289.73 346.56,292.58 354.85,287.46 363.14,283.19 371.43,280.07 379.72,231.45" fill="none" stroke="#4a1f4f" stroke-width="1.0"/>
<circle cx="321.69" cy="288.88" r="2.05" fill="#4a1f4f" stroke="#4a1f4f" stroke-width="0.2"/>
<circle cx="329.98" cy="286.89" r="2.05" fill="#4a1f4f" stroke="#4a1f4f" stroke-width="0.2"/>
<circle cx="338.27" cy="289.73" r="2.05" fill="#4a1f4f" stroke="#4a1f4f" stroke-width="0.2"/>
<circle cx="346.56" cy="292.58" r="2.05" fill="#4a1f4f" stroke="#4a1f4f" stroke-width="0.2"/>
<circle cx="354.85" cy="287.46" r="2.05" fill="#4a1f4f" stroke="#4a1f4f" stroke-width="0.2"/>
<circle cx="363.14" cy="283.19" r="2.05" fill="#4a1f4f" stroke="#4a1f4f" stroke-width="0.2"/>
<circle cx="371.43" cy="280.07" r="2.05" fill="#4a1f4f" stroke="#4a1f4f" stroke-width="0.2"/>
<circle cx="379.72" cy="231.45" r="2.05" fill="#4a1f4f" stroke="#4a1f4f" stroke-width="0.2"/>
<polyline points="321.69,290.87 329.98,302.24 338.27,297.98 346.56,293.71 354.85,290.87 363.14,291.72 371.43,290.87 379.72,289.73 388.01,274.66 412.88,218.94" fill="none" stroke="#4a1f4f" stroke-width="1.0"/>
<circle cx="321.69" cy="290.87" r="2.05" fill="#4a1f4f" stroke="#4a1f4f" stroke-width="0.2"/>
<circle cx="329.98" cy="302.24" r="2.05" fill="#4a1f4f" stroke="#4a1f4f" stroke-width="0.2"/>
<circle cx="338.27" cy="297.98" r="2.05" fill="#4a1f4f" stroke="#4a1f4f" stroke-width="0.2"/>
<circle cx="346.56" cy="293.71" r="2.05" fill="#4a1f4f" stroke="#4a1f4f" stroke-width="0.2"/>
<circle cx="354.85" cy="290.87" r="2.05" fill="#4a1f4f" stroke="#4a1f4f" stroke-width="0.2"/>
<circle cx="363.14" cy="291.72" r="2.05" fill="#4a1f4f" stroke="#4a1f4f" stroke-width="0.2"/>
<circle cx="371.43" cy="290.87" r="2.05" fill="#4a1f4f" stroke="#4a1f4f" stroke-width="0.2"/>
<circle cx="379.72" cy="289.73" r="2.05" fill="#4a1f4f" stroke="#4a1f4f" stroke-width="0.2"/>
<circle cx="388.01" cy="274.66" r="2.05" fill="#4a1f4f" stroke="#4a1f4f" stroke-width="0.2"/>
<circle cx="412.88" cy="218.94" r="2.05" fill="#4a1f4f" stroke="#4a1f4f" stroke-width="0.2"/>
<line x1="434.60" y1="214.70" x2="442.00" y2="214.70" stroke="#4a1f4f" stroke-width="1.0" />
<circle cx="438.30" cy="214.70" r="2.0" fill="#4a1f4f" stroke="#4a1f4f" stroke-width="0.2"/>
<text x="445.4" y="217.60" font-size="7.9" fill="#2a2a2a" style="stroke:none">No Anticogulation</text>
<line x1="434.60" y1="226.00" x2="442.00" y2="226.00" stroke="#1b4c84" stroke-width="1.0" />
<circle cx="438.30" cy="226.00" r="2.0" fill="#1b4c84" stroke="#1b4c84" stroke-width="0.2"/>
<text x="445.4" y="228.90" font-size="7.9" fill="#2a2a2a" style="stroke:none">FXII ASO</text>
<line x1="434.60" y1="237.20" x2="442.00" y2="237.20" stroke="#c8102e" stroke-width="1.0" />
<circle cx="438.30" cy="237.20" r="2.0" fill="#c8102e" stroke="#c8102e" stroke-width="0.2"/>
<text x="445.4" y="240.10" font-size="7.9" fill="#2a2a2a" style="stroke:none">Heparin</text>
<line x1="434.60" y1="248.10" x2="442.00" y2="248.10" stroke="#46a83c" stroke-width="1.0" />
<circle cx="438.30" cy="248.10" r="2.0" fill="#46a83c" stroke="#46a83c" stroke-width="0.2"/>
<text x="445.4" y="251.00" font-size="7.9" fill="#2a2a2a" style="stroke:none">FXI ASO</text>
<text x="0.10" y="376.50" font-size="12" text-anchor="start" font-weight="bold" font-style="normal" fill="#000" >F</text>
<text x="64.3" y="375.5" font-size="10.0" text-anchor="middle" textLength="31.5" lengthAdjust="spacingAndGlyphs" fill="#1a1a1a">Control</text>
<text x="230.3" y="375.5" font-size="10.0" text-anchor="middle" textLength="41" lengthAdjust="spacingAndGlyphs" fill="#1a1a1a">FXII ASO</text>
<text x="426.0" y="375.5" font-size="10.0" text-anchor="middle" textLength="38.5" lengthAdjust="spacingAndGlyphs" fill="#1a1a1a">FXI ASO</text>
</svg>
</body></html>
